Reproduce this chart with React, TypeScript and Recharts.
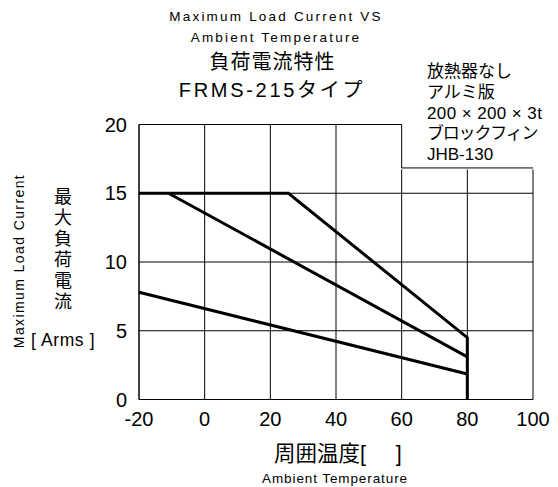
import React from 'react';
import { LineChart, Line, XAxis, YAxis, CartesianGrid, ReferenceArea, ReferenceLine } from 'recharts';

const xTicks = [-20, 0, 20, 40, 60, 80, 100];
const yTicks = [0, 5, 10, 15, 20];

// three derating curves
const curveA = [
  { t: -20, a: 15 },
  { t: 25.5, a: 15 },
  { t: 80, a: 4.5 },
  { t: 80, a: 0 },
];
const curveB = [
  { t: -11, a: 15 },
  { t: 80, a: 3.1 },
];
const curveC = [
  { t: -20, a: 7.8 },
  { t: 80, a: 1.85 },
];

const noteLines = ['放熱器なし', 'アルミ版', '200 × 200 × 3t', 'ブロックフィン', 'JHB-130'];
const noteSpacing = [0, 0, 0.4, -1.2, 0];
const noteBottom = 16.84;

const font = '"Liberation Sans", Arial, "Noto Sans CJK JP", sans-serif';

const App: React.FC = () => {
  return (
    <div style={{ position: 'absolute', left: 0, top: 0, width: 558, height: 487, background: '#fff', fontFamily: font, color: '#000', overflow: 'hidden' }}>
      <LineChart width={558} height={487} margin={{ top: 124.5, right: 25, left: 99, bottom: 57.5 }}>
        <CartesianGrid stroke="#000" strokeWidth={1} />
        <XAxis
          type="number"
          dataKey="t"
          domain={[-20, 100]}
          ticks={xTicks}
          allowDuplicatedCategory={false}
          height={30}
          tickSize={0}
          tickMargin={12}
          stroke="#000"
          tick={{ fill: '#000', fontSize: 20, fontFamily: font }}
        />
        <YAxis
          type="number"
          domain={[0, 20]}
          ticks={yTicks}
          width={40}
          tickSize={0}
          tickMargin={12}
          stroke="#000"
          tick={{ fill: '#000', fontSize: 20, fontFamily: font }}
        />
        <ReferenceArea x1={60} x2={100} y1={noteBottom} y2={20} ifOverflow="visible" fill="#fff" fillOpacity={1} stroke="#fff" strokeWidth={3} />
        <ReferenceLine segment={[{ x: 60, y: noteBottom }, { x: 60, y: 20 }]} stroke="#000" strokeWidth={1} ifOverflow="visible" />
        <ReferenceLine segment={[{ x: 60, y: noteBottom }, { x: 100, y: noteBottom }]} stroke="#000" strokeWidth={1} ifOverflow="visible" />
        <ReferenceLine segment={[{ x: -20, y: 20 }, { x: 60, y: 20 }]} stroke="#000" strokeWidth={1} />
        <Line data={curveA} dataKey="a" type="linear" stroke="#000" strokeWidth={3} dot={false} isAnimationActive={false} />
        <Line data={curveB} dataKey="a" type="linear" stroke="#000" strokeWidth={3} dot={false} isAnimationActive={false} />
        <Line data={curveC} dataKey="a" type="linear" stroke="#000" strokeWidth={3} dot={false} isAnimationActive={false} />
      </LineChart>

      <div style={{ position: 'absolute', left: 0, width: 552, top: 6, textAlign: 'center', fontSize: 13.5, letterSpacing: 2.2, lineHeight: '21px' }}>
        Maximum Load Current VS
        <br />
        Ambient Temperature
      </div>
      <div style={{ position: 'absolute', left: 0, width: 545, top: 48, textAlign: 'center', fontSize: 20, letterSpacing: 1, lineHeight: '28px' }}>
        負荷電流特性
      </div>
      <div style={{ position: 'absolute', left: 0, width: 544, top: 76, textAlign: 'center', fontSize: 20, letterSpacing: 2.7, lineHeight: '28px' }}>
        FRMS-215タイプ
      </div>
      <div style={{ position: 'absolute', left: 427, top: 62, fontSize: 17, lineHeight: '20.8px', whiteSpace: 'pre' }}>
        {noteLines.map((l, i) => (
          <div key={l} style={{ letterSpacing: noteSpacing[i] }}>
            {l}
          </div>
        ))}
      </div>

      <div
        style={{
          position: 'absolute',
          left: 19 - 100,
          top: 261 - 9,
          width: 200,
          height: 18,
          textAlign: 'center',
          fontSize: 14,
          letterSpacing: 1.4,
          lineHeight: '18px',
          transform: 'rotate(-90deg)',
        }}
      >
        Maximum Load Current
      </div>
      <div style={{ position: 'absolute', left: 52, top: 187, width: 22, fontSize: 18, lineHeight: '21px', textAlign: 'center' }}>
        {'最大負荷電流'.split('').map((c, i) => (
          <div key={i}>{c}</div>
        ))}
      </div>
      <div style={{ position: 'absolute', left: 31, top: 329, fontSize: 17.5, letterSpacing: 0.6, lineHeight: '22px', whiteSpace: 'pre' }}>
        {'[ Arms ]'}
      </div>

      <div style={{ position: 'absolute', left: 274, top: 440, fontSize: 21.5, lineHeight: '28px', whiteSpace: 'pre' }}>
        {'周囲温度[     ]'}
      </div>
      <div style={{ position: 'absolute', left: 235, width: 200, top: 471, textAlign: 'center', fontSize: 13.5, letterSpacing: 0.9, lineHeight: '16px' }}>
        Ambient Temperature
      </div>
    </div>
  );
};

export default App;
